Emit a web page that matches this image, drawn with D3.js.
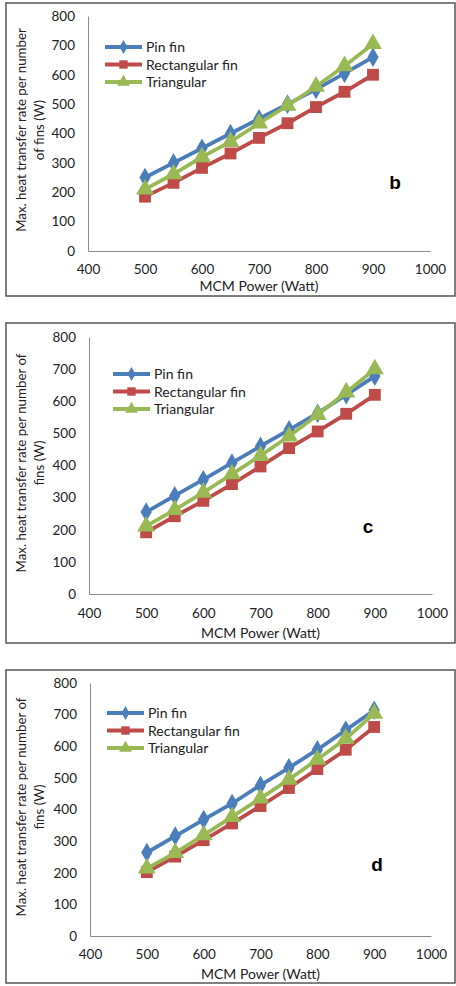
<!DOCTYPE html>
<html>
<head>
<meta charset="utf-8">
<script src="https://cdn.jsdelivr.net/npm/d3@7"></script>
<style>
  body { margin: 0; background: #fff; }
  svg { display: block; font-family: Lato, "Open Sans", sans-serif; }
</style>
</head>
<body>
<svg width="456" height="986"></svg>
<script>
// MCM power levels (x)
var power = [500, 550, 600, 650, 700, 750, 800, 850, 900];
var xTicks = [400, 500, 600, 700, 800, 900, 1000];
var yTicks = [0, 100, 200, 300, 400, 500, 600, 700, 800];
var seriesNames = ["Pin fin", "Rectangular fin", "Triangular"];

// panel b
var pinB  = [250, 300, 350, 400, 450, 500, 550, 605, 660];
var rectB = [185, 232, 283, 332, 385, 435, 490, 542, 600];
var triB  = [210, 262, 320, 372, 435, 495, 560, 630, 705];
// panel c
var pinC  = [255, 306, 356, 408, 460, 511, 563, 620, 678];
var rectC = [192, 242, 290, 342, 397, 454, 506, 561, 620];
var triC  = [211, 262, 316, 373, 431, 491, 558, 628, 700];
// panel d
var pinD  = [264, 316, 368, 419, 477, 532, 589, 651, 714];
var rectD = [202, 251, 303, 356, 411, 468, 528, 589, 661];
var triD  = [214, 263, 319, 377, 435, 495, 558, 624, 703];

var colors = ["#4a7ebb", "#be4b48", "#98b954"];
var shapes = [d3.symbolDiamond, d3.symbolSquare, d3.symbolTriangle];
var sizes = [110, 140, 140];

// layout of the three boxes
var panels = [
  { tag: "b", data: [pinB, rectB, triB], box: [6, 3, 449, 293], x0: 88, x1: 430, yTop: 16, yBot: 251,
    ylab: ["Max. heat transfer rate per number", "of fins (W)"], ymid: 130,
    leg: [105, 47], tagPos: [395, 189], tickOff: 24, titleY: 291 },
  { tag: "c", data: [pinC, rectC, triC], box: [6, 323, 449, 320], x0: 89, x1: 432, yTop: 337, yBot: 594,
    ylab: ["Max. heat transfer rate per number of", "fins (W)"], ymid: 463,
    leg: [113, 374], tagPos: [368, 533], tickOff: 25, titleY: 638 },
  { tag: "d", data: [pinD, rectD, triD], box: [6, 670, 449, 313], x0: 90, x1: 431, yTop: 683, yBot: 936,
    ylab: ["Max. heat transfer rate per number of", "fins (W)"], ymid: 807,
    leg: [107, 713], tagPos: [377, 871], tickOff: 24, titleY: 979 }
];

var svg = d3.select("svg");

panels.forEach(function(p) {
  var g = svg.append("g");

  g.append("rect")
    .attr("x", p.box[0]).attr("y", p.box[1])
    .attr("width", p.box[2]).attr("height", p.box[3])
    .attr("fill", "#fff").attr("stroke", "#555").attr("stroke-width", 1.5);

  var x = d3.scaleLinear().domain([400, 1000]).range([p.x0, p.x1]);
  var y = d3.scaleLinear().domain([0, 800]).range([p.yBot, p.yTop]);

  // axes, no tick marks
  var xAxis = g.append("g").attr("transform", "translate(0," + p.yBot + ")")
    .call(d3.axisBottom(x).tickValues(xTicks).tickFormat(d3.format("d")).tickSize(0).tickPadding(p.tickOff - 11));
  var yAxis = g.append("g").attr("transform", "translate(" + p.x0 + ",0)")
    .call(d3.axisLeft(y).tickValues(yTicks).tickFormat(d3.format("d")).tickSize(0).tickPadding(13));
  [xAxis, yAxis].forEach(function(a) {
    a.select(".domain").attr("stroke", "#8c8c8c").attr("stroke-width", 1);
    a.selectAll("text").attr("font-size", 13.5).attr("fill", "#222")
      .attr("font-family", "Lato, sans-serif");
  });

  // axis titles
  g.append("text")
    .attr("x", (p.x0 + p.x1) / 2).attr("y", p.titleY)
    .attr("text-anchor", "middle").attr("font-size", 14).attr("fill", "#222")
    .text("MCM Power (Watt)");

  p.ylab.forEach(function(t, i) {
    g.append("text")
      .attr("transform", "translate(" + (26 + i * 18) + "," + p.ymid + ") rotate(-90)")
      .attr("text-anchor", "middle").attr("font-size", 13.3).attr("fill", "#222")
      .text(t);
  });

  // series
  var line = d3.line().x(function(d, i) { return x(power[i]); }).y(function(d) { return y(d); });
  p.data.forEach(function(vals, s) {
    g.append("path").datum(vals)
      .attr("d", line).attr("fill", "none")
      .attr("stroke", colors[s]).attr("stroke-width", 3.8);
    g.selectAll(".m" + s).data(vals).enter().append("path")
      .attr("class", "m" + s)
      .attr("transform", function(d, i) { return "translate(" + x(power[i]) + "," + y(d) + ")"; })
      .attr("d", d3.symbol().type(shapes[s]).size(sizes[s]))
      .attr("fill", colors[s]);
  });

  // legend
  seriesNames.forEach(function(name, s) {
    var ly = p.leg[1] + s * 17.5;
    var lg = g.append("g");
    lg.append("line")
      .attr("x1", p.leg[0]).attr("x2", p.leg[0] + 37)
      .attr("y1", ly).attr("y2", ly)
      .attr("stroke", colors[s]).attr("stroke-width", 3.8);
    lg.append("path")
      .attr("transform", "translate(" + (p.leg[0] + 18.5) + "," + ly + ")")
      .attr("d", d3.symbol().type(shapes[s]).size(sizes[s] * 0.5))
      .attr("fill", colors[s]);
    lg.append("text")
      .attr("x", p.leg[0] + 41).attr("y", ly + 5)
      .attr("font-size", 14).attr("fill", "#222")
      .text(name);
  });

  // panel letter
  g.append("text")
    .attr("x", p.tagPos[0]).attr("y", p.tagPos[1])
    .attr("text-anchor", "middle").attr("font-size", 19).attr("font-weight", "bold")
    .attr("font-family", "Liberation Sans, Arial, sans-serif")
    .text(p.tag);
});
</script>
</body>
</html>
